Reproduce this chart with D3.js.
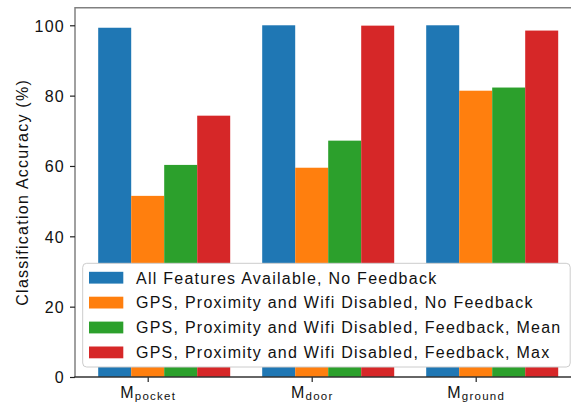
<!DOCTYPE html>
<html>
<head>
<meta charset="utf-8">
<script src="https://cdn.jsdelivr.net/npm/d3@7"></script>
<style>
  html, body { margin: 0; padding: 0; background: #fff; }
  svg { display: block; }
  text { font-family: "Liberation Sans", Arial, Helvetica, sans-serif; }
</style>
</head>
<body>
<svg id="chart" width="571" height="403"></svg>
<script>
const categories = ["pocket", "door", "ground"];
const seriesNames = [
  "All Features Available, No Feedback",
  "GPS, Proximity and Wifi Disabled, No Feedback",
  "GPS, Proximity and Wifi Disabled, Feedback, Mean",
  "GPS, Proximity and Wifi Disabled, Feedback, Max"
];
const allFeatures   = [99.3, 100.0, 100.0];
const disabledNoFb  = [51.5, 59.5, 81.4];
const disabledMean  = [60.3, 67.2, 82.3];
const disabledMax   = [74.3, 99.9, 98.5];
const seriesValues = [allFeatures, disabledNoFb, disabledMean, disabledMax];
const colors = ["#1f77b4", "#ff7f0e", "#2ca02c", "#d62728"];
const yTicks = [0, 20, 40, 60, 80, 100];

const svg = d3.select("#chart");
const axLeft = 75, axTop = 7.7, axBottom = 377, axRight = 600;
const LS = "1.25px";

const y = d3.scaleLinear().domain([0, 105]).range([axBottom, axTop]);
const x = d3.scaleLinear().domain([0, 2]).range([147.7, 475.7]);
// bars are placed at offsets -1,0,1,2 bar widths from the tick (tick sits on the 2nd bar)
const inner = d3.scaleBand().domain(d3.range(seriesNames.length)).range([-49.5, 82.5]).padding(0);

// bars
seriesValues.forEach((vals, s) => {
  svg.append("g").selectAll("rect").data(vals).join("rect")
    .attr("x", (d, i) => x(i) + inner(s))
    .attr("width", inner.bandwidth())
    .attr("y", d => y(d))
    .attr("height", d => y(0) - y(d))
    .attr("fill", colors[s]);
});

// spines
svg.append("line").attr("x1", axLeft).attr("x2", axRight).attr("y1", axTop).attr("y2", axTop)
  .attr("stroke", "#808080").attr("stroke-width", 1.5);
svg.append("line").attr("x1", axLeft).attr("x2", axLeft).attr("y1", axTop - 0.75).attr("y2", axBottom)
  .attr("stroke", "#808080").attr("stroke-width", 1.5);

// y axis
const yAxis = svg.append("g").attr("transform", `translate(${axLeft},0)`)
  .call(d3.axisLeft(y).tickValues(yTicks).tickSize(5).tickPadding(5).tickFormat(d3.format("d")));
yAxis.select(".domain").remove();
yAxis.selectAll(".tick line").attr("stroke", "#222").attr("stroke-width", 1.2);
yAxis.selectAll(".tick text").attr("font-size", 16).attr("fill", "#111")
  .attr("font-family", "Liberation Sans, Arial, sans-serif").style("letter-spacing", LS)
  .attr("dy", "0.36em");

// x axis
const xAxis = svg.append("g").attr("transform", `translate(0,${axBottom})`)
  .call(d3.axisBottom(x).tickValues([0, 1, 2]).tickSize(5).tickFormat(""));
xAxis.select(".domain").remove();
xAxis.selectAll(".tick line").attr("stroke", "#222").attr("stroke-width", 1.2);
svg.append("line").attr("x1", axLeft - 0.75).attr("x2", axRight).attr("y1", axBottom).attr("y2", axBottom)
  .attr("stroke", "#333").attr("stroke-width", 1.3);

xAxis.selectAll(".tick").each(function (d) {
  const t = d3.select(this).append("text")
    .attr("x", 0).attr("y", 21.3)
    .attr("text-anchor", "middle")
    .attr("fill", "#111")
    .style("letter-spacing", LS);
  t.append("tspan").attr("font-size", 16).text("M");
  t.append("tspan").attr("font-size", 11.5).attr("dy", 2).text(categories[d]);
});

// y label
svg.append("text")
  .attr("transform", `translate(27.5,${(axTop + axBottom) / 2}) rotate(-90)`)
  .attr("text-anchor", "middle")
  .attr("font-size", 16).attr("fill", "#111")
  .style("letter-spacing", LS)
  .text("Classification Accuracy (%)");

// legend
const lg = svg.append("g");
lg.append("rect").attr("x", 82.7).attr("y", 263.3).attr("width", 487.5).attr("height", 103.7)
  .attr("rx", 4).attr("ry", 4)
  .attr("fill", "#fff").attr("fill-opacity", 1)
  .attr("stroke", "#cccccc").attr("stroke-width", 1);
const rowY = [277.7, 302.6, 327.5, 352.4];
seriesNames.forEach((name, i) => {
  lg.append("rect").attr("x", 89).attr("y", rowY[i] - 5.9).attr("width", 34.3).attr("height", 11.8)
    .attr("fill", colors[i]);
  lg.append("text").attr("x", 136).attr("y", rowY[i] + 5.8)
    .attr("font-size", 16).attr("fill", "#111")
    .style("letter-spacing", LS)
    .text(name);
});
</script>
</body>
</html>
